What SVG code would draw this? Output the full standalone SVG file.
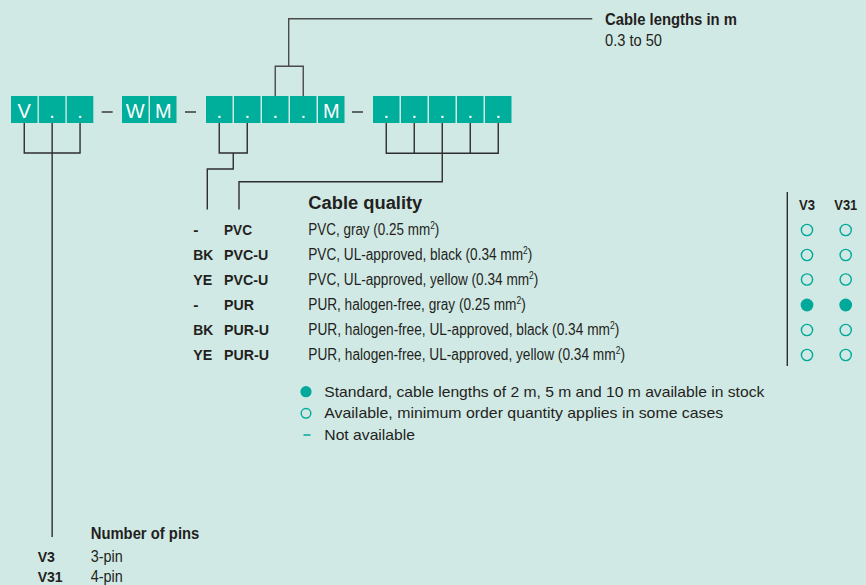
<svg xmlns="http://www.w3.org/2000/svg" width="866" height="585" viewBox="0 0 866 585">
<style>
.bg{fill:#d1e9e5}
.box{fill:#00ae9c}
.bt{fill:#fff;font-family:"Liberation Sans",Arial,sans-serif;font-size:20px;text-anchor:middle}
.t{fill:#231f20;font-family:"Liberation Sans Narrow","Liberation Sans",Arial,sans-serif;font-size:15.5px}
.d{font-size:16px}
.b{font-weight:bold}
.w{fill:#231f20;font-family:"Liberation Sans",Arial,sans-serif;font-size:15px}
.sup{font-size:10px}
.con{fill:none;stroke:#2e2e2e;stroke-width:1.4}
.dash{fill:none;stroke:#3a3a3a;stroke-width:1.5}
.oc{fill:none;stroke:#00a99a;stroke-width:1.4}
.fc{fill:#00a99a}
</style>
<rect class="bg" x="0" y="0" width="866" height="585"/>

<g id="connectors">
<path class="con" d="M24.25,123V153H80.05V123M52.15,123V537"/>
<path class="con" d="M219.25,123V153H247.25V123M233.25,153V169H207.3V209.5"/>
<path class="con" d="M386.25,123V153.3H498.25V123M414.25,123V153.3M470.25,123V153.3M442.25,123V181.7H239V209.5"/>
<path class="con" d="M275.25,96V66.3H303.25V96M288.7,66.3V18.7H592.3" style="stroke:#4a4a4a"/>
<path class="dash" d="M101.7,112H112.7M185,112H196M352,112H363"/>
</g>

<g id="code-pins">
<rect class="box" x="11" y="96" width="26.5" height="27"/>
<rect class="box" x="38.9" y="96" width="26.5" height="27"/>
<rect class="box" x="66.8" y="96" width="26.5" height="27"/>
<text class="bt" x="24.25" y="118.3">V</text>
<text class="bt" x="52.15" y="118.3">.</text>
<text class="bt" x="80.05" y="118.3">.</text>
</g>

<g id="code-wm">
<rect class="box" x="122" y="96" width="26.5" height="27"/>
<rect class="box" x="150" y="96" width="26.5" height="27"/>
<text class="bt" x="135.25" y="118.3">W</text>
<text class="bt" x="163.25" y="118.3">M</text>
</g>

<g id="code-length">
<rect class="box" x="206" y="96" width="26.5" height="27"/>
<rect class="box" x="234" y="96" width="26.5" height="27"/>
<rect class="box" x="262" y="96" width="26.5" height="27"/>
<rect class="box" x="290" y="96" width="26.5" height="27"/>
<rect class="box" x="318" y="96" width="26.5" height="27"/>
<text class="bt" x="219.25" y="118.3">.</text>
<text class="bt" x="247.25" y="118.3">.</text>
<text class="bt" x="275.25" y="118.3">.</text>
<text class="bt" x="303.25" y="118.3">.</text>
<text class="bt" x="331.25" y="118.3">M</text>
</g>

<g id="code-quality">
<rect class="box" x="373" y="96" width="26.5" height="27"/>
<rect class="box" x="401" y="96" width="26.5" height="27"/>
<rect class="box" x="429" y="96" width="26.5" height="27"/>
<rect class="box" x="457" y="96" width="26.5" height="27"/>
<rect class="box" x="485" y="96" width="26.5" height="27"/>
<text class="bt" x="386.25" y="118.3">.</text>
<text class="bt" x="414.25" y="118.3">.</text>
<text class="bt" x="442.25" y="118.3">.</text>
<text class="bt" x="470.25" y="118.3">.</text>
<text class="bt" x="498.25" y="118.3">.</text>
</g>

<g id="cable-lengths">
<text class="t b" x="605" y="25" style="font-size:16px" textLength="132" lengthAdjust="spacingAndGlyphs">Cable lengths in m</text>
<text class="t d" x="605" y="45.7" textLength="57" lengthAdjust="spacingAndGlyphs">0.3 to 50</text>
</g>

<g id="cable-quality">
<text class="w b" x="308.3" y="209.3" style="font-size:17.5px" textLength="114" lengthAdjust="spacingAndGlyphs">Cable quality</text>
<text class="t b" x="193.3" y="235">-</text>
<text class="t b" x="224" y="235" textLength="28" lengthAdjust="spacingAndGlyphs">PVC</text>
<text class="t d" x="308.3" y="235" textLength="131" lengthAdjust="spacingAndGlyphs">PVC, gray (0.25 mm<tspan class="sup" dy="-6">2</tspan><tspan dy="6">)</tspan></text>
<text class="t b" x="193.3" y="260" textLength="20" lengthAdjust="spacingAndGlyphs">BK</text>
<text class="t b" x="224" y="260" textLength="44.3" lengthAdjust="spacingAndGlyphs">PVC-U</text>
<text class="t d" x="308.3" y="260" textLength="224" lengthAdjust="spacingAndGlyphs">PVC, UL-approved, black (0.34 mm<tspan class="sup" dy="-6">2</tspan><tspan dy="6">)</tspan></text>
<text class="t b" x="193.3" y="285" textLength="19" lengthAdjust="spacingAndGlyphs">YE</text>
<text class="t b" x="224" y="285" textLength="44.3" lengthAdjust="spacingAndGlyphs">PVC-U</text>
<text class="t d" x="308.3" y="285" textLength="230" lengthAdjust="spacingAndGlyphs">PVC, UL-approved, yellow (0.34 mm<tspan class="sup" dy="-6">2</tspan><tspan dy="6">)</tspan></text>
<text class="t b" x="193.3" y="310">-</text>
<text class="t b" x="224" y="310" textLength="30" lengthAdjust="spacingAndGlyphs">PUR</text>
<text class="t d" x="308.3" y="310" textLength="217.4" lengthAdjust="spacingAndGlyphs">PUR, halogen-free, gray (0.25 mm<tspan class="sup" dy="-6">2</tspan><tspan dy="6">)</tspan></text>
<text class="t b" x="193.3" y="335" textLength="20" lengthAdjust="spacingAndGlyphs">BK</text>
<text class="t b" x="224" y="335" textLength="45" lengthAdjust="spacingAndGlyphs">PUR-U</text>
<text class="t d" x="308.3" y="335" textLength="311" lengthAdjust="spacingAndGlyphs">PUR, halogen-free, UL-approved, black (0.34 mm<tspan class="sup" dy="-6">2</tspan><tspan dy="6">)</tspan></text>
<text class="t b" x="193.3" y="360" textLength="19" lengthAdjust="spacingAndGlyphs">YE</text>
<text class="t b" x="224" y="360" textLength="45" lengthAdjust="spacingAndGlyphs">PUR-U</text>
<text class="t d" x="308.3" y="360" textLength="316.7" lengthAdjust="spacingAndGlyphs">PUR, halogen-free, UL-approved, yellow (0.34 mm<tspan class="sup" dy="-6">2</tspan><tspan dy="6">)</tspan></text>
</g>

<g id="availability">
<line x1="787.3" y1="192" x2="787.3" y2="366" stroke="#2e2e2e" stroke-width="1.4"/>
<text class="t b" x="799" y="210" textLength="16" lengthAdjust="spacingAndGlyphs">V3</text>
<text class="t b" x="834.3" y="210" textLength="23" lengthAdjust="spacingAndGlyphs">V31</text>
<circle class="oc" cx="807" cy="230" r="5.6"/><circle class="oc" cx="845.7" cy="230" r="5.6"/>
<circle class="oc" cx="807" cy="255" r="5.6"/><circle class="oc" cx="845.7" cy="255" r="5.6"/>
<circle class="oc" cx="807" cy="279.5" r="5.6"/><circle class="oc" cx="845.7" cy="279.5" r="5.6"/>
<circle class="fc" cx="807" cy="305" r="6.4"/><circle class="fc" cx="845.7" cy="305" r="6.4"/>
<circle class="oc" cx="807" cy="330" r="5.6"/><circle class="oc" cx="845.7" cy="330" r="5.6"/>
<circle class="oc" cx="807" cy="355" r="5.6"/><circle class="oc" cx="845.7" cy="355" r="5.6"/>
</g>

<g id="legend">
<circle class="fc" cx="306" cy="391.7" r="5.6"/>
<text class="w" x="324.3" y="396.7" textLength="440" lengthAdjust="spacingAndGlyphs">Standard, cable lengths of 2 m, 5 m and 10 m available in stock</text>
<circle class="oc" cx="306" cy="413.3" r="4.8"/>
<text class="w" x="324.3" y="418" textLength="399" lengthAdjust="spacingAndGlyphs">Available, minimum order quantity applies in some cases</text>
<line x1="303.5" y1="435" x2="310.5" y2="435" stroke="#00a99a" stroke-width="1.5"/>
<text class="w" x="324.3" y="439.5" textLength="90.7" lengthAdjust="spacingAndGlyphs">Not available</text>
</g>

<g id="number-of-pins">
<text class="t b" x="90.7" y="539.3" style="font-size:16px" textLength="108.6" lengthAdjust="spacingAndGlyphs">Number of pins</text>
<text class="t b" x="37.7" y="561.7" textLength="17.3" lengthAdjust="spacingAndGlyphs">V3</text>
<text class="t d" x="90.7" y="561.7" textLength="32" lengthAdjust="spacingAndGlyphs">3-pin</text>
<text class="t b" x="37.7" y="581.7" textLength="25" lengthAdjust="spacingAndGlyphs">V31</text>
<text class="t d" x="90.7" y="581.7" textLength="32" lengthAdjust="spacingAndGlyphs">4-pin</text>
</g>
</svg>
